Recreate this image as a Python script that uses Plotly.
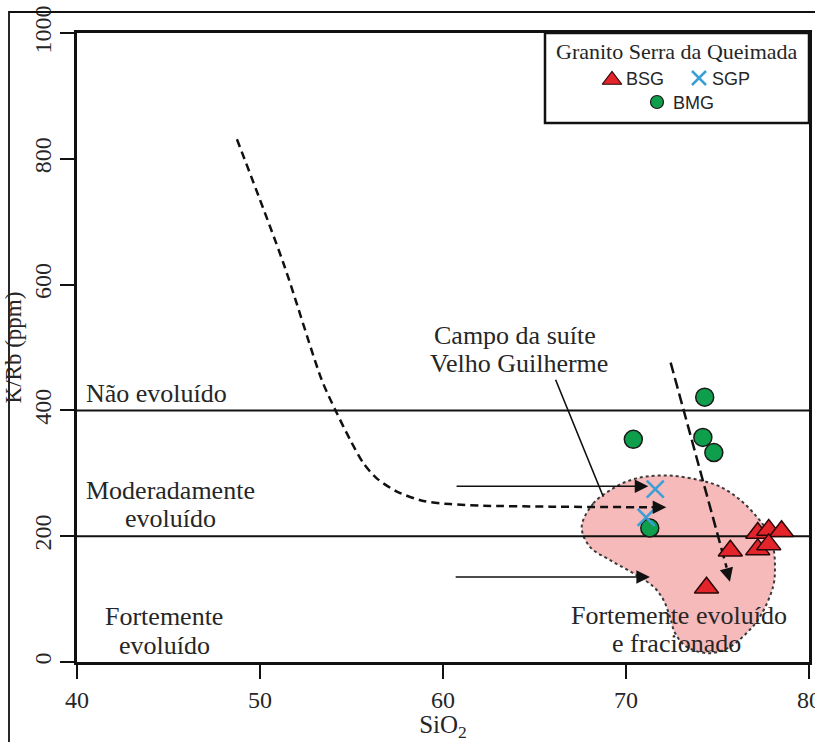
import plotly.graph_objects as go

# ---------------- data ----------------
bsg_sio2 = [74.4, 75.7, 77.2, 77.8, 78.5, 77.2, 77.8]
bsg_krb = [118, 177, 205, 210, 208, 179, 187]

sgp_sio2 = [71.6, 71.1]
sgp_krb = [275, 230]

bmg_sio2 = [74.3, 70.4, 74.2, 74.8, 71.3]
bmg_krb = [421, 354, 357, 333, 213]

# Campo da suíte Velho Guilherme (outline)
field_sio2 = [67.58, 68.21, 69.13, 70.04, 71.13, 72.58, 74.04, 75.13, 76.23, 77.14, 77.68,
              78.04, 78.14, 78.04, 77.32, 76.59, 75.68, 74.59, 73.32, 72.68, 72.40, 72.04,
              71.49, 70.40, 69.13, 68.03, 67.58]
field_krb = [215, 252, 273, 287, 295, 296, 289, 279, 258, 231, 210,
             183, 152, 120, 72, 46, 24, 14, 24, 46, 72, 99,
             120, 141, 162, 183, 215]

# dashed evolution trend
trend_sio2 = [48.74, 51.28, 53.38, 54.11, 54.93, 55.65, 56.38, 57.48, 58.93, 60.39, 62.21, 65.85, 71.6]
trend_krb = [831, 634, 448, 401, 353, 316, 292, 271, 256, 251, 248.5, 247, 246]

# steep dashed trend
trend2_sio2 = [72.44, 75.5]
trend2_krb = [476, 150]

boundaries = [400, 200]
xticks = [40, 50, 60, 70, 80]
yticks = [0, 200, 400, 600, 800, 1000]

# ---------------- layout geometry (pixels) ----------------
W, H = 815, 742
PX0, PX1, PY0, PY1 = 77, 809, 33, 662


def px(x):
    return (x - PX0) / (PX1 - PX0)


def py(y):
    return (PY1 - y) / (PY1 - PY0)


SERIF = "Liberation Serif, Times New Roman, serif"
SANS = "Liberation Sans, Arial, sans-serif"
TXT = "#262626"
BLUE = "#3b9fd6"
GREEN = "#0f9e4b"
RED = "#e3242b"

fig = go.Figure()

# field
fig.add_trace(go.Scatter(
    x=field_sio2, y=field_krb, mode="lines", fill="toself",
    fillcolor="#f6baba", line=dict(color="#3a3a3a", width=2, dash="dot", shape="spline", smoothing=1.0),
    hoverinfo="skip", showlegend=False))

# boundaries
for b in boundaries:
    fig.add_trace(go.Scatter(x=[40, 80], y=[b, b], mode="lines",
                             line=dict(color="#111", width=2), hoverinfo="skip", showlegend=False))

# dashed trends
fig.add_trace(go.Scatter(x=trend_sio2, y=trend_krb, mode="lines",
                         line=dict(color="#111", width=2.5, dash="8px,5px", shape="spline", smoothing=0.8),
                         hoverinfo="skip", showlegend=False))
fig.add_trace(go.Scatter(x=trend2_sio2, y=trend2_krb, mode="lines",
                         line=dict(color="#111", width=2.5, dash="11px,5px"),
                         hoverinfo="skip", showlegend=False))

# data
fig.add_trace(go.Scatter(x=bmg_sio2, y=bmg_krb, mode="markers", name="BMG",
                         marker=dict(symbol="circle", size=18, color=GREEN,
                                     line=dict(color="#1a1a1a", width=1.5)), showlegend=False))
fig.add_trace(go.Scatter(x=sgp_sio2, y=sgp_krb, mode="markers", name="SGP",
                         marker=dict(symbol="x-thin-open", size=17, color=BLUE,
                                     line=dict(color=BLUE, width=2.5)), showlegend=False))
fig.add_trace(go.Scatter(x=bsg_sio2, y=bsg_krb, mode="markers", name="BSG",
                         marker=dict(symbol="triangle-up", size=21, color=RED,
                                     line=dict(color="#2a0808", width=1.5)), showlegend=False))

# legend keys on a pixel-scaled overlay axis
fig.add_trace(go.Scatter(x=[612], y=[80], xaxis="x2", yaxis="y2", mode="markers",
                         marker=dict(symbol="triangle-up", size=17, color=RED,
                                     line=dict(color="#2a0808", width=1.2)),
                         hoverinfo="skip", showlegend=False))
fig.add_trace(go.Scatter(x=[699], y=[78], xaxis="x2", yaxis="y2", mode="markers",
                         marker=dict(symbol="x-thin-open", size=14, color=BLUE,
                                     line=dict(color=BLUE, width=2.5)),
                         hoverinfo="skip", showlegend=False))
fig.add_trace(go.Scatter(x=[657], y=[102], xaxis="x2", yaxis="y2", mode="markers",
                         marker=dict(symbol="circle", size=13, color=GREEN,
                                     line=dict(color="#1a1a1a", width=1.2)),
                         hoverinfo="skip", showlegend=False))

annotations = []

# arrows (solid)
for (x0, y0, x1, y1) in [(60.66, 279.3, 71.22, 279.3), (60.61, 135.1, 71.31, 135.1)]:
    annotations.append(dict(x=x1, y=y1, ax=x0, ay=y0, xref="x", yref="y", axref="x", ayref="y",
                            text="", showarrow=True, arrowhead=2, arrowsize=1.7, arrowwidth=1.6,
                            arrowcolor="#111"))
# leader line for field label
annotations.append(dict(x=68.76, y=262.8, ax=66.12, ay=451, xref="x", yref="y", axref="x", ayref="y",
                        text="", showarrow=True, arrowhead=0, arrowwidth=1.6, arrowcolor="#111"))
# arrowheads for dashed trends
for (x0, y0, x1, y1) in [(71.3, 246, 72.2, 246), (75.48, 149.1, 75.68, 127.7)]:
    annotations.append(dict(x=x1, y=y1, ax=x0, ay=y0, xref="x", yref="y", axref="x", ayref="y",
                            text="", showarrow=True, arrowhead=2, arrowsize=1.7, arrowwidth=1.6,
                            arrowcolor="#111"))


def label(text, cx, cy, size=26, font=SERIF):
    annotations.append(dict(text=text, x=px(cx), y=py(cy), xref="paper", yref="paper",
                            xanchor="center", yanchor="middle", showarrow=False,
                            font=dict(family=font, size=size, color=TXT)))


label("Não evoluído", 156, 393)
label("Moderadamente", 170, 490)
label("evoluído", 170, 518)
label("Fortemente", 164, 616)
label("evoluído", 164, 645)
label("Campo da suíte", 515, 335)
label("Velho Guilherme", 519, 363)
label("Fortemente evoluído", 679, 615)
label("e fracionado", 676, 643)

# legend texts
label("Granito Serra da Queimada", 677, 52, size=22)
label("BSG", 645, 79, size=18, font=SANS)
label("SGP", 731, 79, size=18, font=SANS)
label("BMG", 693, 103, size=18, font=SANS)

shapes = [
    # outer frame of the figure
    dict(type="rect", xref="paper", yref="paper", x0=px(9), x1=px(840), y0=py(760), y1=py(12),
         line=dict(color="#111", width=1.8), fillcolor="rgba(0,0,0,0)", layer="above"),
    # legend box
    dict(type="rect", xref="paper", yref="paper", x0=px(545), x1=px(PX1), y0=py(123), y1=py(PY0),
         line=dict(color="#111", width=2.5), fillcolor="white", layer="below"),
]

axis_common = dict(showgrid=False, zeroline=False, showline=True, mirror=True,
                   linecolor="#111", linewidth=2.5, ticks="outside", ticklen=14, tickwidth=2,
                   tickcolor="#111", ticklabeloverflow="allow", automargin=False,
                   tickfont=dict(family=SERIF, size=24, color=TXT))

fig.update_layout(
    width=W, height=H,
    margin=dict(l=PX0, r=W - PX1, t=PY0, b=H - PY1, autoexpand=False),
    paper_bgcolor="white", plot_bgcolor="rgba(0,0,0,0)",
    xaxis=dict(range=[40, 80], tickvals=xticks, **axis_common,
               title=dict(text="SiO<sub>2</sub>", font=dict(family=SERIF, size=25, color=TXT), standoff=8)),
    yaxis=dict(range=[0, 1000], tickvals=yticks, tickangle=-90, **axis_common,
               title=dict(text="K/Rb (ppm)", font=dict(family=SERIF, size=23, color=TXT), standoff=2)),
    xaxis2=dict(range=[PX0, PX1], overlaying="x", visible=False, fixedrange=True),
    yaxis2=dict(range=[PY1, PY0], overlaying="y", visible=False, fixedrange=True),
    annotations=annotations,
    shapes=shapes,
    showlegend=False,
)

fig.write_html("out.html")
